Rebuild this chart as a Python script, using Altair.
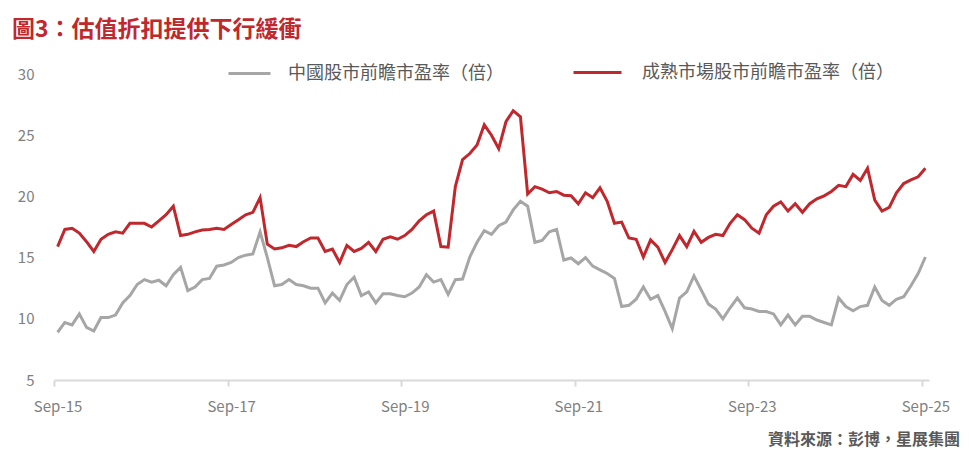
import altair as alt
import pandas as pd

title_text = "圖3：估值折扣提供下行緩衝"
source_text = "資料來源：彭博，星展集團"
series_cn = "中國股市前瞻市盈率（倍）"
series_dm = "成熟市場股市前瞻市盈率（倍）"
x_labels = ["Sep-15", "Sep-17", "Sep-19", "Sep-21", "Sep-23", "Sep-25"]
y_ticks = [5, 10, 15, 20, 25, 30]

# Monthly forward P/E, Sep-2015 .. Sep-2025
china_pe = [
    8.9, 9.7, 9.5, 10.4, 9.3, 9.0, 10.1, 10.1, 10.3, 11.3,
    11.9, 12.8, 13.2, 13.0, 13.15, 12.7, 13.6, 14.2, 12.3, 12.6,
    13.2, 13.3, 14.3, 14.4, 14.6, 15.0, 15.2, 15.3, 17.1, 15.0,
    12.7, 12.8, 13.2, 12.8, 12.7, 12.5, 12.5, 11.3, 12.1, 11.5,
    12.8, 13.4, 11.9, 12.2, 11.3, 12.05, 12.05, 11.9, 11.8, 12.1,
    12.6, 13.6, 13.0, 13.2, 12.0, 13.2, 13.25, 15.05, 16.25, 17.2,
    16.9, 17.6, 17.9, 18.9, 19.6, 19.2, 16.25, 16.4, 17.1, 17.3,
    14.8, 14.97, 14.5, 15.0, 14.3, 14.0, 13.7, 13.3, 11.0, 11.1,
    11.6, 12.6, 11.6, 11.9, 10.6, 9.2, 11.7, 12.2, 13.5, 12.35,
    11.2, 10.8, 10.0, 10.9, 11.7, 10.9, 10.8, 10.6, 10.6, 10.4,
    9.5, 10.3, 9.5, 10.2, 10.2, 9.9, 9.7, 9.5, 11.7, 11.0,
    10.65, 11.0, 11.1, 12.6, 11.5, 11.1, 11.6, 11.8, 12.7, 13.7,
    15.05,
]
mature_pe = [
    15.9, 17.3, 17.4, 17.0, 16.3, 15.5, 16.5, 16.9, 17.1, 17.0,
    17.8, 17.8, 17.8, 17.5, 18.0, 18.5, 19.2, 16.8, 16.9, 17.1,
    17.25, 17.3, 17.4, 17.3, 17.7, 18.1, 18.5, 18.7, 19.9, 16.1,
    15.7, 15.8, 16.0, 15.9, 16.3, 16.6, 16.6, 15.5, 15.7, 14.6,
    16.0, 15.5, 15.75, 16.25, 15.5, 16.5, 16.7, 16.5, 16.8, 17.3,
    18.0, 18.5, 18.8, 15.9, 15.85, 20.8, 23.0, 23.5, 24.2, 25.85,
    25.0, 23.9, 26.1, 27.0, 26.5, 20.2, 20.8, 20.6, 20.3, 20.4,
    20.1, 20.05, 19.4, 20.3, 19.9, 20.7, 19.6, 17.8, 17.9, 16.6,
    16.5, 15.05, 16.45, 15.85, 14.6, 15.65, 16.8, 15.9, 17.15, 16.25,
    16.65, 16.9, 16.8, 17.8, 18.5, 18.1, 17.4, 17.0, 18.5, 19.2,
    19.55, 18.8, 19.4, 18.7, 19.4, 19.8, 20.05, 20.4, 20.9, 20.8,
    21.8, 21.3, 22.3, 19.7, 18.8, 19.1, 20.3, 21.05, 21.35, 21.6,
    22.3,
]

n = len(china_pe)
month_idx = list(range(n))
df_cn = pd.DataFrame({"m": month_idx, "v": china_pe, "s": series_cn})
df_dm = pd.DataFrame({"m": month_idx, "v": mature_pe, "s": series_dm})

W, H = 875, 306
FONT = "Noto Sans CJK TC"
GRAY = "#A6A6A6"
RED = "#C0282D"
AXIS_TXT = "#808080"
LEG_TXT = "#595959"

xscale = alt.Scale(domain=[-0.5, n - 0.5], nice=False, zero=False)
yscale = alt.Scale(domain=[5, 30], nice=False, zero=False)

yaxis = alt.Axis(values=y_ticks, domain=False, ticks=False, tickSize=0, grid=False,
                 labelPadding=20, labelFontSize=15, labelColor=AXIS_TXT,
                 labelFont=FONT, title=None)

label_pos = [i * 24 for i in range(len(x_labels))]
label_expr = "[" + ",".join("'%s'" % l for l in x_labels) + "][round(datum.value/24)]"
xaxis_labels = alt.Axis(values=label_pos, labelExpr=label_expr, ticks=False, tickSize=0,
                        domain=False, grid=False, labelFlush=False, labelPadding=19,
                        labelFontSize=15, labelColor=AXIS_TXT, labelFont=FONT,
                        title=None, orient="bottom")
tick_pos = [p - 0.5 for p in label_pos]
xaxis_ticks = alt.Axis(values=tick_pos, labels=False, ticks=True, tickSize=6, tickWidth=2,
                       tickColor="#D9D9D9", domain=True, domainColor="#D9D9D9",
                       domainWidth=2, grid=False, title=None, orient="bottom")

leg_cn = alt.Legend(orient="none", legendX=173, legendY=-23, direction="horizontal",
                    title=None, symbolType="stroke", symbolSize=1764, symbolStrokeWidth=3,
                    labelOffset=16, labelFontSize=18, labelColor=LEG_TXT, labelFont=FONT,
                    labelLimit=400, padding=0)
leg_dm = alt.Legend(orient="none", legendX=518, legendY=-27, direction="horizontal",
                    title=None, symbolType="stroke", symbolSize=2304, symbolStrokeWidth=3,
                    labelOffset=19, labelFontSize=18, labelColor=LEG_TXT, labelFont=FONT,
                    labelLimit=400, padding=0)

gray_line = alt.Chart(df_cn).mark_line(strokeWidth=3).encode(
    x=alt.X("m:Q", scale=xscale, axis=xaxis_labels),
    y=alt.Y("v:Q", scale=yscale, axis=yaxis),
    color=alt.Color("s:N", scale=alt.Scale(domain=[series_cn], range=[GRAY]), legend=leg_cn),
)
red_line = alt.Chart(df_dm).mark_line(strokeWidth=3).encode(
    x=alt.X("m:Q", scale=xscale, axis=xaxis_ticks),
    y=alt.Y("v:Q", scale=yscale, axis=yaxis),
    color=alt.Color("s:N", scale=alt.Scale(domain=[series_dm], range=[RED]), legend=leg_dm),
)

title_layer = alt.Chart(pd.DataFrame({"t": [title_text]})).mark_text(
    align="left", baseline="middle", fontSize=23, fontWeight="bold", color=RED, font=FONT
).encode(x=alt.value(-42), y=alt.value(-44), text="t:N")

source_layer = alt.Chart(pd.DataFrame({"t": [source_text]})).mark_text(
    align="right", baseline="middle", fontSize=16, fontWeight="bold", color=LEG_TXT, font=FONT
).encode(x=alt.value(906), y=alt.value(366), text="t:N")

chart = alt.layer(gray_line, red_line, title_layer, source_layer).resolve_scale(
    color="independent"
).resolve_axis(x="independent").properties(
    width=W, height=H,
    autosize=alt.AutoSizeParams(type="none"),
    padding={"left": 46, "top": 66, "right": 32, "bottom": 72},
).configure_view(stroke=None)

chart.save("out.html", embed_options={"renderer": "svg", "actions": False})
